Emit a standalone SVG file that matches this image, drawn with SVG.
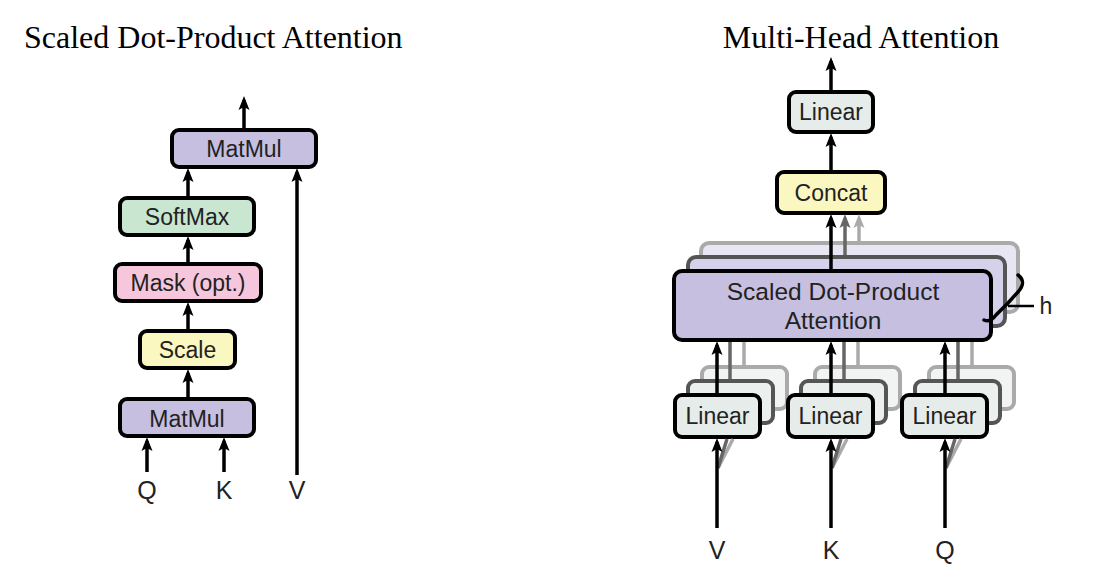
<svg xmlns="http://www.w3.org/2000/svg" width="1094" height="588" viewBox="0 0 1094 588">
<style>
.title{font-family:"Liberation Serif","Times New Roman",serif;font-size:32px;fill:#000}
.lbl{font-family:"Liberation Sans",Arial,sans-serif;font-size:23px;fill:#222;text-anchor:middle}
.io{font-family:"Liberation Sans",Arial,sans-serif;font-size:25px;fill:#222;text-anchor:middle}
.box{stroke:#000;stroke-width:4}
.mid{stroke:#555;stroke-width:4}
.back{stroke:#aaa;stroke-width:4}
.c{stroke:#000;stroke-width:3.5;fill:none}
.cg{stroke:#666;stroke-width:3.5;fill:none}
.cl{stroke:#aaa;stroke-width:3.5;fill:none}
</style>
<defs>
<marker id="ah" viewBox="0 -6 14 12" refX="10" refY="0" markerWidth="14" markerHeight="12" markerUnits="userSpaceOnUse" orient="auto"><path d="M0,-5.5 L14,0 L0,5.5 L3,0 z" fill="#000"/></marker>
<marker id="ahg" viewBox="0 -6 14 12" refX="10" refY="0" markerWidth="14" markerHeight="12" markerUnits="userSpaceOnUse" orient="auto"><path d="M0,-5.5 L14,0 L0,5.5 L3,0 z" fill="#666"/></marker>
<marker id="ahl" viewBox="0 -6 14 12" refX="10" refY="0" markerWidth="14" markerHeight="12" markerUnits="userSpaceOnUse" orient="auto"><path d="M0,-5.5 L14,0 L0,5.5 L3,0 z" fill="#aaa"/></marker>
</defs>
<rect width="1094" height="588" fill="#fff"/>
<text class="title" x="24" y="48">Scaled Dot-Product Attention</text>
<text class="title" x="861" y="48" text-anchor="middle">Multi-Head Attention</text>

<!-- Left nodes -->
<g id="matmul-top"><rect class="box" x="172" y="130" width="144" height="37" rx="7" fill="#c6bfe0"/><text class="lbl" x="244" y="157">MatMul</text></g>
<g id="softmax"><rect class="box" x="120" y="198" width="134" height="37" rx="7" fill="#c9e6d1"/><text class="lbl" x="187" y="225">SoftMax</text></g>
<g id="mask"><rect class="box" x="115" y="264" width="146" height="37" rx="7" fill="#f6c7dc"/><text class="lbl" x="188" y="291">Mask (opt.)</text></g>
<g id="scale"><rect class="box" x="140" y="331" width="95" height="37" rx="7" fill="#fbf7c0"/><text class="lbl" x="187.5" y="358">Scale</text></g>
<g id="matmul-bottom"><rect class="box" x="120" y="399" width="134" height="37" rx="7" fill="#c6bfe0"/><text class="lbl" x="187" y="427">MatMul</text></g>
<g id="q-left"><text class="io" x="147" y="499">Q</text></g>
<g id="k-left"><text class="io" x="224" y="499">K</text></g>
<g id="v-left"><text class="io" x="297" y="499">V</text></g>

<!-- Right nodes -->
<g id="linear-top"><rect class="box" x="789" y="92" width="84" height="40" rx="7" fill="#e6ece9"/><text class="lbl" x="831" y="120">Linear</text></g>
<g id="concat"><rect class="box" x="777" y="172" width="108" height="41" rx="7" fill="#fbf7c0"/><text class="lbl" x="831" y="201">Concat</text></g>
<g id="sdpa">
<rect class="back" x="701" y="243" width="317" height="69" rx="8" fill="#e9e6f3"/>
<rect class="mid" x="688" y="257" width="317" height="69" rx="8" fill="#d6d1ea"/>
<rect class="box" x="674" y="271" width="317" height="69" rx="8" fill="#c6bfe0"/>
<text class="lbl" x="833" y="300" style="font-size:24.5px">Scaled Dot-Product</text>
<text class="lbl" x="833" y="329" style="font-size:24.5px">Attention</text>
</g>
<g id="h-brace">
<path d="M1018,275 Q1027,282 1018,292 L1008,303 L996,315 Q990,323 984,320" fill="none" stroke="#000" stroke-width="3.5" stroke-linecap="round"/>
<line x1="1008" y1="306" x2="1034" y2="306" stroke="#000" stroke-width="2.5"/>
<text class="lbl" x="1046" y="314">h</text>
</g>
<g id="linear-v">
<rect class="back" x="702" y="367" width="85" height="42" rx="7" fill="#f1f4f2"/>
<rect class="mid" x="688" y="381" width="85" height="42" rx="7" fill="#ebefed"/>
<rect class="box" x="675" y="395" width="85" height="42" rx="7" fill="#e6ece9"/>
<text class="lbl" x="717.5" y="424">Linear</text>
</g>
<g id="linear-k">
<rect class="back" x="815" y="367" width="85" height="42" rx="7" fill="#f1f4f2"/>
<rect class="mid" x="801" y="381" width="85" height="42" rx="7" fill="#ebefed"/>
<rect class="box" x="788" y="395" width="85" height="42" rx="7" fill="#e6ece9"/>
<text class="lbl" x="830.5" y="424">Linear</text>
</g>
<g id="linear-q">
<rect class="back" x="929" y="367" width="85" height="42" rx="7" fill="#f1f4f2"/>
<rect class="mid" x="915" y="381" width="85" height="42" rx="7" fill="#ebefed"/>
<rect class="box" x="902" y="395" width="85" height="42" rx="7" fill="#e6ece9"/>
<text class="lbl" x="944.5" y="424">Linear</text>
</g>
<g id="v-right"><text class="io" x="717" y="559">V</text></g>
<g id="k-right"><text class="io" x="831" y="559">K</text></g>
<g id="q-right"><text class="io" x="945" y="559">Q</text></g>

<!-- Connectors -->
<g id="connectors">
<line class="c" x1="244" y1="128" x2="244" y2="100" marker-end="url(#ah)"/>
<line class="c" x1="188" y1="196" x2="188" y2="172" marker-end="url(#ah)"/>
<line class="c" x1="188" y1="262" x2="188" y2="240" marker-end="url(#ah)"/>
<line class="c" x1="188" y1="329" x2="188" y2="306" marker-end="url(#ah)"/>
<line class="c" x1="188" y1="397" x2="188" y2="373" marker-end="url(#ah)"/>
<line class="c" x1="147" y1="472" x2="147" y2="441" marker-end="url(#ah)"/>
<line class="c" x1="224" y1="472" x2="224" y2="441" marker-end="url(#ah)"/>
<line class="c" x1="297" y1="475" x2="297" y2="172" marker-end="url(#ah)"/>

<line class="c" x1="831" y1="90" x2="831" y2="61" marker-end="url(#ah)"/>
<line class="c" x1="831" y1="170" x2="831" y2="137" marker-end="url(#ah)"/>
<line class="c" x1="831" y1="269" x2="831" y2="218" marker-end="url(#ah)"/>
<line class="cg" x1="845" y1="255" x2="845" y2="218" marker-end="url(#ahg)"/>
<line class="cl" x1="859" y1="241" x2="859" y2="218" marker-end="url(#ahl)"/>

<line class="cl" x1="744" y1="365" x2="744" y2="342"/>
<line class="cg" x1="730" y1="379" x2="730" y2="342"/>
<line class="c" x1="717" y1="393" x2="717" y2="345" marker-end="url(#ah)"/>
<line class="cl" x1="858" y1="365" x2="858" y2="342"/>
<line class="cg" x1="844" y1="379" x2="844" y2="342"/>
<line class="c" x1="831" y1="393" x2="831" y2="345" marker-end="url(#ah)"/>
<line class="cl" x1="972" y1="365" x2="972" y2="342"/>
<line class="cg" x1="958" y1="379" x2="958" y2="342"/>
<line class="c" x1="945" y1="393" x2="945" y2="345" marker-end="url(#ah)"/>

<line class="cl" x1="718" y1="468" x2="733" y2="439"/>
<line class="cg" x1="718" y1="468" x2="727" y2="439"/>
<line class="c" x1="717" y1="528" x2="717" y2="442" marker-end="url(#ah)"/>
<line class="cl" x1="832" y1="468" x2="847" y2="439"/>
<line class="cg" x1="832" y1="468" x2="841" y2="439"/>
<line class="c" x1="831" y1="528" x2="831" y2="442" marker-end="url(#ah)"/>
<line class="cl" x1="946" y1="468" x2="961" y2="439"/>
<line class="cg" x1="946" y1="468" x2="955" y2="439"/>
<line class="c" x1="945" y1="528" x2="945" y2="442" marker-end="url(#ah)"/>
</g>
</svg>
